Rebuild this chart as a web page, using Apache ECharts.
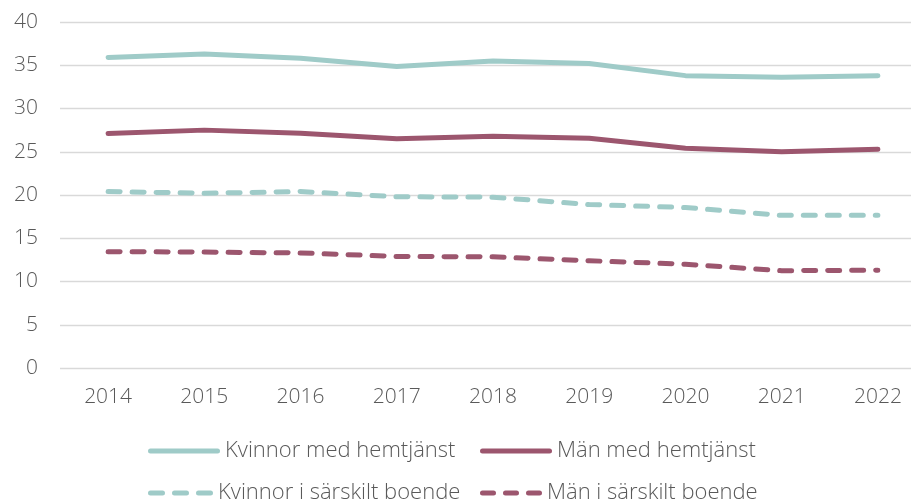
<!DOCTYPE html>
<html>
<head>
<meta charset="utf-8">
<script src="https://cdn.jsdelivr.net/npm/echarts@6/dist/echarts.min.js"></script>
<style>
  html, body { margin: 0; padding: 0; background: #fff; }
  #chart { width: 911px; height: 504px; }
</style>
</head>
<body>
<div id="chart"></div>
<script>
// years on the x axis
const years = ['2014', '2015', '2016', '2017', '2018', '2019', '2020', '2021', '2022'];

// values
const kvinnorHemtjanst = [35.9, 36.3, 35.8, 34.85, 35.5, 35.2, 33.8, 33.6, 33.8];
const manHemtjanst = [27.1, 27.5, 27.15, 26.5, 26.8, 26.55, 25.4, 25.0, 25.3];
const kvinnorBoende = [20.4, 20.2, 20.4, 19.8, 19.75, 18.9, 18.55, 17.65, 17.65];
const manBoende = [13.45, 13.4, 13.3, 12.9, 12.85, 12.4, 12.0, 11.25, 11.3];

const names = ['Kvinnor med hemtjänst', 'Män med hemtjänst', 'Kvinnor i särskilt boende', 'Män i särskilt boende'];

const teal = '#9fcbc8';
const plum = '#9c566e';
const textColor = '#595959';
const font = 'Open Sans';

// legend icons: a thick rounded line, or three rounded dashes
function pill(x0, x1) {
  return 'M' + (x0 + 2.5) + ',0 H' + (x1 - 2.5) + ' A2.5,2.5 0 0 1 ' + (x1 - 2.5) + ',5 H' + (x0 + 2.5) + ' A2.5,2.5 0 0 1 ' + (x0 + 2.5) + ',0 Z ';
}
const solidIcon = 'path://' + pill(0, 72);
const dashIcon = (w) => {
  const d = (w - 14) / 3;
  return 'path://' + pill(0, d) + pill(d + 7, 2 * d + 7) + pill(2 * d + 14, w);
};

let myChart = echarts.init(document.getElementById('chart'));

// one legend per item so they sit in two columns like the original
function legendItem(name, left, top, icon, w) {
  return {
    data: [{ name: name, icon: icon }],
    left: left,
    top: top,
    itemWidth: w,
    itemHeight: 5,
    padding: 0,
    selectedMode: false,
    textStyle: { color: textColor, fontSize: 22, fontFamily: font, fontWeight: 300 }
  };
}

function lineSeries(name, data, color, dashed) {
  return {
    name: name,
    type: 'line',
    data: data,
    symbol: 'none',
    lineStyle: {
      color: color,
      width: 5,
      type: dashed ? [12, 12] : 'solid',
      cap: 'round',
      join: 'round'
    },
    itemStyle: { color: color }
  };
}

let option = {
  animation: false,
  backgroundColor: '#fff',
  grid: {
    left: 60,
    width: 866,
    top: 22,
    bottom: 136,
    outerBoundsMode: 'none'
  },
  legend: [
    legendItem(names[0], 148, 440, solidIcon, 72),
    legendItem(names[1], 480, 440, solidIcon, 72),
    legendItem(names[2], 148, 482, dashIcon(65), 65),
    legendItem(names[3], 480, 482, dashIcon(62), 62)
  ],
  xAxis: {
    type: 'category',
    data: years,
    boundaryGap: true,
    axisLine: { show: false },
    axisTick: { show: false },
    axisLabel: {
      color: textColor,
      fontSize: 21,
      fontFamily: font,
      fontWeight: 300,
      margin: 19
    }
  },
  yAxis: {
    type: 'value',
    min: 0,
    max: 40,
    interval: 5,
    axisLine: { show: false },
    axisTick: { show: false },
    axisLabel: {
      color: textColor,
      fontSize: 21,
      fontFamily: font,
      fontWeight: 300,
      margin: 22
    },
    splitLine: {
      lineStyle: { color: '#d9d9d9', width: 1.3 }
    }
  },
  series: [
    lineSeries(names[0], kvinnorHemtjanst, teal, false),
    lineSeries(names[1], manHemtjanst, plum, false),
    lineSeries(names[2], kvinnorBoende, teal, true),
    lineSeries(names[3], manBoende, plum, true)
  ]
};

myChart.setOption(option);
</script>
</body>
</html>
